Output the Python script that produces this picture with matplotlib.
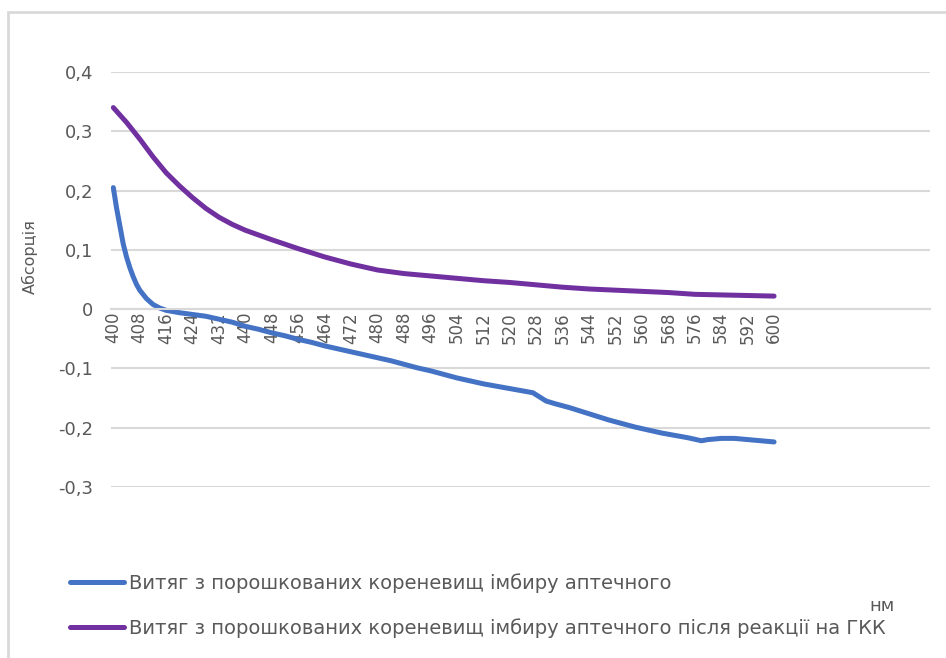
import numpy as np
import matplotlib
matplotlib.use("Agg")
import matplotlib.pyplot as plt
from matplotlib.patches import Rectangle

# wavelength, nm / absorbance
nm_blue = [400, 401, 402, 403, 404, 405, 406, 407, 408, 410, 412, 414, 416, 420, 424, 428,
           432, 436, 440, 444, 448, 452, 456, 460, 464, 468, 472, 476, 480, 484, 488, 492,
           496, 500, 504, 508, 512, 516, 520, 524, 527, 529, 531, 534, 538, 542, 546, 550,
           554, 558, 562, 566, 570, 574, 578, 580, 584, 588, 592, 596, 600]
abs_blue = [0.205, 0.170, 0.140, 0.110, 0.088, 0.070, 0.055, 0.042, 0.032, 0.018, 0.008, 0.002,
            -0.002, -0.006, -0.009, -0.012, -0.017, -0.022, -0.029, -0.034, -0.040, -0.045,
            -0.051, -0.056, -0.062, -0.067, -0.072, -0.077, -0.082, -0.087, -0.093, -0.099,
            -0.104, -0.110, -0.116, -0.121, -0.126, -0.130, -0.134, -0.138, -0.141, -0.148,
            -0.155, -0.160, -0.166, -0.173, -0.180, -0.187, -0.193, -0.199, -0.204, -0.209,
            -0.213, -0.217, -0.222, -0.220, -0.218, -0.218, -0.220, -0.222, -0.224]

nm_purple = [400, 404, 408, 412, 416, 420, 424, 428, 432, 436, 440, 448, 456, 464, 472, 480,
             488, 496, 504, 512, 520, 528, 536, 544, 552, 560, 568, 576, 584, 592, 600]
abs_purple = [0.340, 0.315, 0.287, 0.257, 0.230, 0.208, 0.188, 0.170, 0.155, 0.143, 0.133,
              0.117, 0.102, 0.088, 0.076, 0.066, 0.060, 0.056, 0.052, 0.048, 0.045, 0.041,
              0.037, 0.034, 0.032, 0.030, 0.028, 0.025, 0.024, 0.023, 0.022]

label_blue = "Витяг з порошкованих кореневищ імбиру аптечного"
label_purple = "Витяг з порошкованих кореневищ імбиру аптечного після реакції на ГКК"

x_ticks = list(range(400, 601, 8))
y_ticks = [-0.3, -0.2, -0.1, 0, 0.1, 0.2, 0.3, 0.4]

grey_txt = "#595959"
grid_c = "#d9d9d9"

plt.rcParams['font.family'] = ['DejaVu Sans']

fig = plt.figure(figsize=(9.46, 6.58), dpi=100)
ax = fig.add_axes([111/946, 1-487/658, (930-111)/946, (487-72)/658])

ax.plot(nm_blue, abs_blue, color="#4472C4", lw=3.6, solid_capstyle='round', label=label_blue)
ax.plot(nm_purple, abs_purple, color="#7030A0", lw=3.6, solid_capstyle='round', label=label_purple)

ax.set_xlim(399.3, 647.2)
ax.set_ylim(-0.3, 0.4)
ax.set_yticks(y_ticks)
ax.set_yticklabels([("%g" % v).replace(".", ",") for v in y_ticks])
ax.set_xticks(x_ticks)
ax.set_xticklabels([str(v) for v in x_ticks])
ax.tick_params(axis='both', length=0, colors=grey_txt)
ax.tick_params(axis='y', pad=13, labelsize=13)
ax.tick_params(axis='x', pad=2, labelsize=12, labelrotation=90)

ax.grid(axis='y', color=grid_c, lw=1.5)
ax.set_axisbelow(True)
for s in ['top', 'right', 'left']:
    ax.spines[s].set_visible(False)
ax.spines['bottom'].set_position(('data', 0))
ax.spines['bottom'].set_color(grid_c)
ax.spines['bottom'].set_linewidth(1.5)

fig.text(30/946, 1-257/658, "Абсорція", rotation=90, ha='center', va='center',
         fontsize=11.5, color=grey_txt)
fig.text(882/946, 1-606/658, "нм", ha='center', va='center', fontsize=13, color=grey_txt)

leg = fig.legend(loc='center left', bbox_to_anchor=(70/946, 1-605.5/658), frameon=False,
                 fontsize=14, handlelength=2.8, handletextpad=0.25, labelspacing=1.3,
                 borderpad=0, borderaxespad=0)
for t in leg.get_texts():
    t.set_color(grey_txt)

fig.patches.append(Rectangle((8/946, -0.1), 1.2, 1.1-12/658, transform=fig.transFigure,
                             fill=False, edgecolor=grid_c, lw=2))

fig.savefig("out.png", dpi=100, facecolor='white')
